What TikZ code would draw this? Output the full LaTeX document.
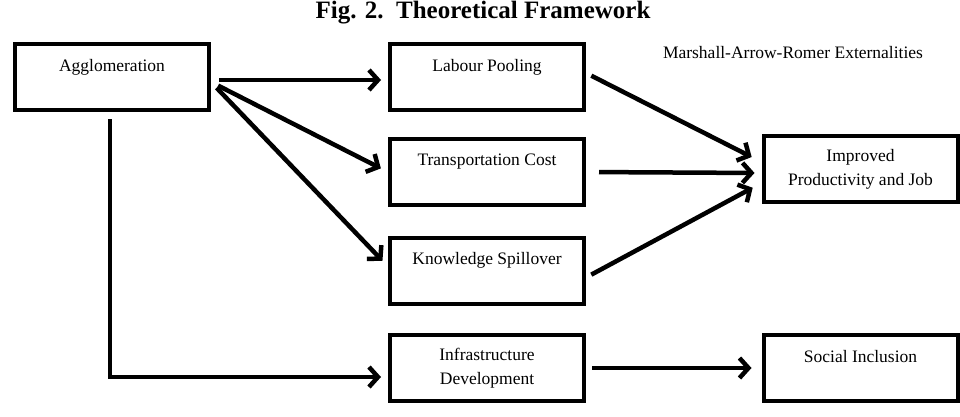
\documentclass[tikz,border=0pt]{standalone}
\usepackage{fontspec}
\setmainfont{Liberation Serif}
\usetikzlibrary{positioning}
\usetikzlibrary{arrows.meta}
\tikzset{node distance=2.5cm, % Default distance, overridden below.
box/.style={ % Sets the properties for each box
draw,
line width=4pt,
minimum width=194pt,
minimum height=66pt,
align=center,
inner sep=2pt,
font=\fontsize{17.5}{24}\selectfont},
link/.style={ % Sets the properties for each connector
draw,
line width=4.5pt,
-{Straight Barb[length=9pt,width=20pt]}}}

\begin{document}
\begin{tikzpicture}[x=1pt,y=-1pt,on grid]
  \useasboundingbox (0,0) rectangle (960,416);
  \node[font=\bfseries\fontsize{25}{30}\selectfont] (title) at (483,13) {Fig. 2.\ \ Theoretical Framework};
  \node[box]   (agg)   at (112,77)                      {Agglomeration\\ \phantom{x}};
  \node[box]   (lp)    [right=375pt of agg]             {Labour Pooling\\ \phantom{x}};
  \node[box]   (tr)    [below=95pt of lp]               {Transportation Cost\\ \phantom{x}};
  \node[box]   (ks)    [below=98.5pt of tr]             {Knowledge Spillover\\ \phantom{x}};
  \node[box]   (infra) [below=97.5pt of ks]             {Infrastructure\\ Development};
  \node[box]   (ip)    [right=373.5pt of tr, yshift=3pt] {Improved\\ Productivity and Job};
  \node[box]   (si)    [right=373.5pt of infra]         {Social Inclusion\\ \phantom{x}};
  \node[font=\fontsize{17.5}{24}\selectfont] (mar) at (793,53) {Marshall-Arrow-Romer Externalities};
  \path ([yshift=-3pt]agg.east) edge[link, shorten <=8pt, shorten >=7pt] ([yshift=-3pt]lp.west)
        ([yshift=-5pt]agg.east) edge[link, shorten <=8pt, shorten >=8pt] (tr.west)
        ([yshift=-5pt]agg.east) edge[link, shorten <=8pt, shorten >=8pt] ([yshift=4pt]ks.west);
  \draw[link, shorten <=7pt, shorten >=7pt] ([xshift=-2pt]agg.south) |- ([yshift=-9pt]infra.west);
  \path ([yshift=4pt]lp.east)  edge[link, shorten <=6pt, shorten >=11pt] ([yshift=7pt]ip.west)
        (tr.east)              edge[link, shorten <=13pt, shorten >=7pt] ([yshift=-4pt]ip.west)
        ([yshift=-7pt]ks.east) edge[link, shorten <=6pt, shorten >=10pt] ([yshift=-14pt]ip.west)
        (infra.east)           edge[link, shorten <=6pt, shorten >=10pt] (si.west);
\end{tikzpicture}
\end{document}
